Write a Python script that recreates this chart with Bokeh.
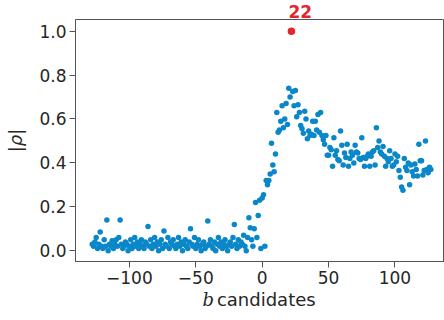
from bokeh.plotting import figure
from bokeh.models import ColumnDataSource, FixedTicker, PrintfTickFormatter, Title
from bokeh.embed import file_html
from bokeh.resources import INLINE

# ---- data ----
neg_b = list(range(-128, 0))
neg_rho = [
    0.03, 0.02, 0.04, 0.06, 0.01, 0.03, 0.085, 0.02,
    0.01, 0.05, 0.02, 0.14, 0.00, 0.03, 0.02, 0.045,
    0.01, 0.03, 0.05, 0.02, 0.06, 0.14, 0.03, 0.01,
    0.02, 0.04, 0.03, 0.00, 0.02, 0.05, 0.01, 0.03,
    0.06, 0.02, 0.04, 0.01, 0.03, 0.05, 0.02, 0.01,
    0.04, 0.03, 0.11, 0.02, 0.05, 0.01, 0.03, 0.06,
    0.02, 0.04, 0.00, 0.03, 0.05, 0.01, 0.09, 0.03,
    0.02, 0.06, 0.01, 0.04, 0.03, 0.05, 0.02, 0.01,
    0.03, 0.06, 0.02, 0.04, 0.00, 0.03, 0.05, 0.02,
    0.01, 0.04, 0.10, 0.03, 0.02, 0.06, 0.01, 0.03,
    0.05, 0.02, 0.00, 0.03, 0.04, 0.01, 0.02, 0.135,
    0.03, 0.05, 0.02, 0.01, 0.04, 0.00, 0.03, 0.06,
    0.02, 0.04, 0.01, 0.03, 0.05, 0.02, 0.00, 0.03,
    0.04, 0.02, 0.06, 0.12, 0.03, 0.01, 0.05, 0.02,
    0.04, 0.03, 0.07, 0.02, 0.00, 0.06, 0.15, 0.105,
    0.05, 0.02, 0.10, 0.22, 0.06, 0.16, 0.23, 0.01,
]
pos_b = [b for b in range(0, 128) if b != 22]
pos_rho = [
    0.24, 0.255, 0.02, 0.32, 0.30, 0.32, 0.35, 0.49, 0.39, 0.36,
    0.44, 0.63, 0.54, 0.55, 0.59, 0.66, 0.56, 0.60, 0.67, 0.575,
    0.74, 0.70,
    0.725, 0.66, 0.73, 0.61, 0.665, 0.63, 0.57, 0.555, 0.535, 0.635,
    0.60, 0.51, 0.545, 0.525, 0.53, 0.59, 0.525, 0.59, 0.55, 0.62,
    0.54, 0.63, 0.525, 0.505, 0.485, 0.525, 0.435, 0.435, 0.47, 0.46,
    0.385, 0.515, 0.435, 0.455, 0.415, 0.41, 0.545, 0.48, 0.39, 0.445,
    0.425, 0.485, 0.385, 0.42, 0.45, 0.435, 0.40, 0.48, 0.45, 0.445,
    0.42, 0.415, 0.515, 0.425, 0.385, 0.42, 0.43, 0.44, 0.385, 0.43,
    0.45, 0.455, 0.39, 0.56, 0.47, 0.50, 0.45, 0.44, 0.475, 0.43,
    0.385, 0.42, 0.405, 0.455, 0.42, 0.385, 0.39, 0.44, 0.405, 0.43,
    0.365, 0.335, 0.29, 0.275, 0.42, 0.38, 0.365, 0.40, 0.30, 0.39,
    0.36, 0.34, 0.395, 0.37, 0.34, 0.485, 0.41, 0.41, 0.345, 0.365,
    0.50, 0.37, 0.355, 0.38, 0.37,
]
best_b = [22]
best_rho = [1.0]
best_label = "22"
x_ticks = [-100, -50, 0, 50, 100]
y_ticks = [0.0, 0.2, 0.4, 0.6, 0.8, 1.0]

b_all = neg_b + pos_b
rho_all = neg_rho + pos_rho

BLUE = "#0a87c8"
RED = "#e5262f"
TXT = "#262626"
AX = "#50555a"

p = figure(width=444, height=320, output_backend="svg", toolbar_location=None,
           x_range=(-140.6, 137.3), y_range=(-0.049, 1.053),
           min_border_left=75, min_border_right=0, min_border_top=19,
           min_border_bottom=59)
p.grid.visible = False
p.background_fill_color = "white"
p.border_fill_color = "white"
p.outline_line_color = AX
p.outline_line_width = 1

src = ColumnDataSource(dict(b=b_all, rho=rho_all))
p.scatter("b", "rho", source=src, size=5.5, color=BLUE, line_width=0)
p.scatter(best_b, best_rho, size=7.5, color=RED, line_width=0)

for ax in (p.xaxis[0], p.yaxis[0]):
    ax.axis_line_color = AX
    ax.major_tick_line_color = AX
    ax.major_tick_out = 6
    ax.major_tick_in = 0
    ax.minor_tick_line_color = None
    ax.major_label_text_font = "DejaVu Sans"
    ax.major_label_text_font_size = "17px"
    ax.major_label_text_color = TXT
    ax.major_label_standoff = 3

p.xaxis.ticker = FixedTicker(ticks=x_ticks)
p.xaxis.major_label_overrides = {t: (("\u2212" + str(-t)) if t < 0 else str(t)) for t in x_ticks}
p.yaxis.ticker = FixedTicker(ticks=y_ticks)
p.yaxis.formatter = PrintfTickFormatter(format="%.1f")

p.yaxis.axis_label = "|\u03c1|"
p.yaxis.axis_label_text_font = "DejaVu Sans"
p.yaxis.axis_label_text_font_style = "italic"
p.yaxis.axis_label_text_font_size = "18px"
p.yaxis.axis_label_text_color = TXT
p.yaxis.axis_label_standoff = 10

# x axis label: "candidates" (space reserved on the left for the italic b)
p.xaxis.axis_label = "\u2002\u2009candidates"
p.xaxis.axis_label_text_font = "DejaVu Sans"
p.xaxis.axis_label_text_font_style = "normal"
p.xaxis.axis_label_text_font_size = "18px"
p.xaxis.axis_label_text_color = TXT
p.xaxis.axis_label_standoff = 2

# italic serif "b" placed on the same line, via a title below the axis
p.add_layout(Title(text="b", align="left", offset=127, standoff=-47,
                   vertical_align="top", text_font="DejaVu Serif",
                   text_font_style="italic", text_font_size="18px",
                   text_color=TXT, text_line_height=1.0), "below")

# highlighted candidate label as a title above the frame
p.add_layout(Title(text=best_label, align="left", offset=213, standoff=0,
                   vertical_align="top", text_font="DejaVu Sans",
                   text_font_style="bold", text_font_size="17px",
                   text_color=RED, text_line_height=1.0), "above")

open("out.html", "w").write(file_html(p, INLINE))
